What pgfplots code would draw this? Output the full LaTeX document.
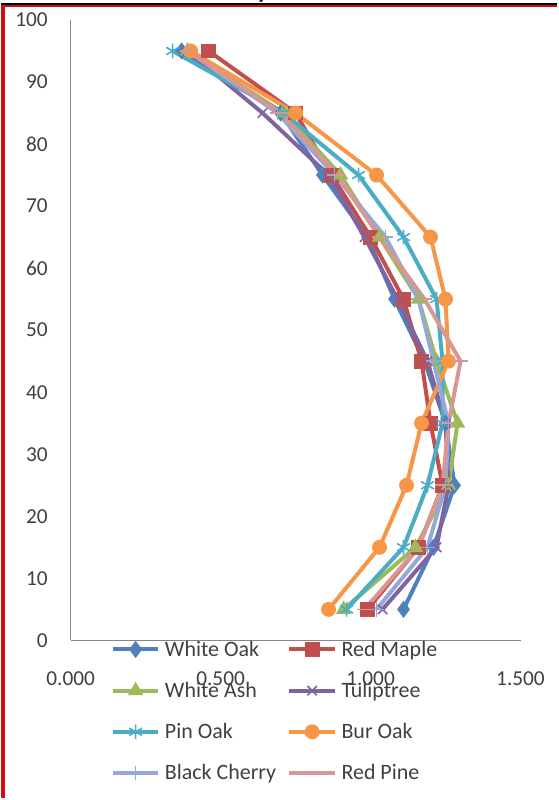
\documentclass[border=0pt]{standalone}
\usepackage{pgfplots}
\pgfplotsset{compat=1.18}
\usepackage{fontspec}
\setmainfont{Carlito}
\definecolor{cWO}{HTML}{4F81BD}
\definecolor{cRM}{HTML}{C0504D}
\definecolor{cWA}{HTML}{9BBB59}
\definecolor{cTT}{HTML}{8064A2}
\definecolor{cPO}{HTML}{4BACC6}
\definecolor{cBO}{HTML}{F79646}
\definecolor{cBC}{HTML}{95A9D8}
\definecolor{cRP}{HTML}{D99694}
\definecolor{lblgray}{HTML}{404040}
\definecolor{axgray}{HTML}{868686}
\definecolor{frame}{HTML}{D01010}

\pgfplotstableread{
h   wo   rm   wa   tt   po   bo   bc   rp
5   1.11 0.99 0.91 1.04 0.92 0.86 1.02 0.98
15  1.21 1.16 1.15 1.22 1.11 1.03 1.19 1.16
25  1.28 1.24 1.26 1.26 1.19 1.12 1.25 1.24
35  1.25 1.20 1.29 1.25 1.24 1.17 1.26 1.26
45  1.18 1.17 1.22 1.19 1.24 1.26 1.21 1.30
55  1.08 1.11 1.16 1.09 1.22 1.25 1.16 1.18
65  0.99 1.00 1.03 0.98 1.11 1.20 1.05 1.03
75  0.84 0.87 0.90 0.86 0.96 1.02 0.88 0.89
85  0.70 0.75 0.71 0.64 0.71 0.75 0.69 0.70
95  0.37 0.46 0.39 0.39 0.34 0.40 0.39 0.39
}\datatable

\begin{document}
\begin{tikzpicture}
\fill[white] (0,0) rectangle (418.5pt,600pt);
\begin{scope}
\clip (0,596pt) rectangle (418.5pt,600pt);
\node[anchor=base, font=\fontsize{18}{20}\selectfont\bfseries, inner sep=0pt] at (197pt,600.8pt) {y};
\end{scope}
\draw[black, line width=1.2pt] (0,596.8pt) -- (418.5pt,596.8pt);
\draw[frame, line width=1.2pt] (0,595.4pt) -- (418.5pt,595.4pt);
\draw[frame, line width=3pt] (1.5pt,0) -- (1.5pt,596pt);
\begin{axis}[
  at={(52.5pt,118.5pt)}, anchor=south west,
  scale only axis, width=338.25pt, height=466.5pt,
  xmin=0, xmax=1.5, ymin=0, ymax=100,
  axis lines=left, axis line style={-, axgray, line width=1pt},
  xtick={0,0.5,1,1.5}, ytick={0,10,...,100},
  major tick length=0pt,
  /pgf/number format/assume math mode=true,
  tick label style={font=\fontsize{16}{18}\selectfont, text=lblgray},
  x tick label style={/pgf/number format/fixed, /pgf/number format/fixed zerofill, /pgf/number format/precision=3, anchor=center, yshift=-28.5pt},
  y tick label style={anchor=east, inner sep=0pt, xshift=-17pt},
  every axis plot/.append style={line width=3pt, mark options={solid, line width=1.2pt}},
  legend columns=2,
  legend cell align=left,
  legend image code/.code={\draw[mark repeat=2,mark phase=2] plot coordinates {(0cm,0cm) (0.6cm,0cm) (1.2cm,0cm)};},
  legend style={at={(0.089,0.004)}, anchor=north west, draw=none, fill=none,
    font=\fontsize{16.5}{18}\selectfont, text=lblgray, row sep=14pt, inner sep=0pt,
    /tikz/every odd column/.append style={column sep=3pt},
    /tikz/every even column/.append style={column sep=8pt},
    nodes={inner xsep=0.5pt}},
]
\addplot[cWO, mark=diamond*, mark size=5.5pt] table[x=wo, y=h] {\datatable};
\addlegendentry{White Oak}
\addplot[cRM, mark=square*, mark size=5pt] table[x=rm, y=h] {\datatable};
\addlegendentry{Red Maple}
\addplot[cWA, mark=triangle*, mark size=5.5pt] table[x=wa, y=h] {\datatable};
\addlegendentry{White Ash}
\addplot[cTT, mark=x, mark size=5pt] table[x=tt, y=h] {\datatable};
\addlegendentry{Tuliptree}
\addplot[cPO, mark=asterisk, mark size=5.5pt] table[x=po, y=h] {\datatable};
\addlegendentry{Pin Oak}
\addplot[cBO, mark=*, mark size=5pt] table[x=bo, y=h] {\datatable};
\addlegendentry{Bur Oak}
\addplot[cBC, mark=+, mark size=5.5pt] table[x=bc, y=h] {\datatable};
\addlegendentry{Black Cherry}
\addplot[cRP, mark=-, mark size=5.5pt] table[x=rp, y=h] {\datatable};
\addlegendentry{Red Pine}
\end{axis}
\end{tikzpicture}
\end{document}
